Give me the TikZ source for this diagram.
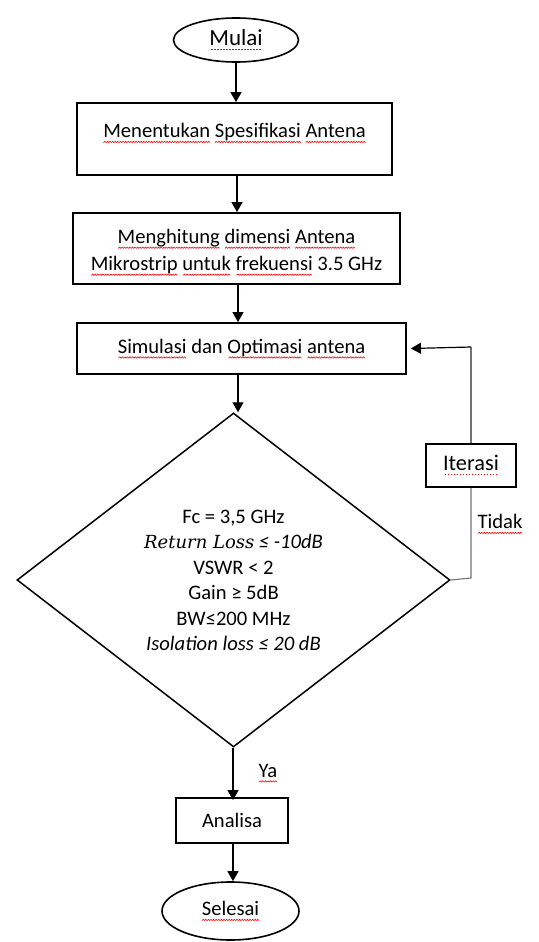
\documentclass[tikz,border=0pt]{standalone}
\usepackage{fontspec}
\setmainfont{Carlito}
\newfontfamily\cambit{DejaVu Serif Italic}
\usetikzlibrary{shapes.geometric,arrows.meta}
\newsavebox\wavebox
\newcommand\rw[1]{\setbox0\hbox{#1}\rlap{\raisebox{-5pt}{\hbox to \wd0{\cleaders\copy\wavebox\hfill}}}\box0\relax}
\newcommand\rd[1]{\setbox0\hbox{#1}\rlap{\raisebox{-4.5pt}{\hbox to \wd0{\cleaders\hbox{\kern0.7pt\textcolor{red}{\rule{1.6pt}{1.1pt}}\kern0.7pt}\hfill}}}\box0\relax}
\tikzset{
  base/.style={font=\fontsize{20.6}{27}\selectfont, align=center, inner sep=0pt},
  proc/.style={base, draw, line width=1.8pt, rectangle},
  term/.style={base, draw, line width=1.6pt, ellipse},
  arr/.style={line width=1.2pt, -{Triangle[length=10pt,width=11pt]}},
  lbl/.style={base},
}
\begin{document}
\sbox\wavebox{\begin{pgfpicture}%
  \pgfpathrectangle{\pgfpointorigin}{\pgfpoint{2.6pt}{1.4pt}}\pgfusepath{use as bounding box}%
  \pgfsetlinewidth{0.6pt}\pgfsetstrokecolor{red}\pgfsetroundjoin
  \pgfpathmoveto{\pgfpointorigin}\pgfpathlineto{\pgfpoint{1.3pt}{1.4pt}}\pgfpathlineto{\pgfpoint{2.6pt}{0pt}}\pgfusepath{stroke}%
\end{pgfpicture}}%
\begin{tikzpicture}[x=1pt,y=-1pt]
\useasboundingbox (0,0) rectangle (538,942);
\node[term, minimum width=125pt, minimum height=44pt, font=\fontsize{23}{27}\selectfont] (start) at (236,40) {\rd{Mulai}};
\node[proc, minimum width=315pt, minimum height=72pt] (b1) at (234.5,139)
  {\raisebox{6pt}[\height][\depth]{\rw{Menentukan} \rw{Spesifikasi} \rw{Antena}}};
\node[proc, minimum width=327pt, minimum height=71pt] (b2) at (236.5,248.5)
  {\raisebox{-3pt}[\height][\depth]{\begin{tabular}{@{}c@{}}\rw{Menghitung} \rw{dimensi} \rw{Antena}\\ \rw{Mikrostrip} \rw{untuk} \rw{frekuensi} 3.5 GHz\end{tabular}}};
\node[proc, minimum width=329pt, minimum height=51pt] (b3) at (241.5,348.5)
  {\rw{Simulasi} dan \rw{Optimasi} \rw{antena}};
\node[base, draw, line width=1.5pt, diamond, minimum width=433pt, minimum height=334pt, shape aspect=1.3, font=\fontsize{20.6}{25.4}\selectfont] (dia) at (233.5,580)
  {\raisebox{-2pt}[\height][\depth]{\begin{tabular}{@{}c@{}}Fc = 3,5 GHz\\
   {\cambit\fontsize{18}{25.4}\selectfont Return Loss}\ \textit{≤ -10dB}\\
   VSWR < 2\\
   Gain ≥ 5dB\\
   BW≤200 MHz\\
   \textit{Isolation loss ≤ 20 dB}\end{tabular}}};
\node[proc, minimum width=90pt, minimum height=43pt, font=\fontsize{22.3}{27}\selectfont] (it) at (471,465.5) {\rd{Iterasi}};
\node[proc, minimum width=112pt, minimum height=45pt] (an) at (232,820.5) {Analisa};
\node[term, minimum width=137pt, minimum height=58pt] (end) at (230.5,911) {\rw{Selesai}};
\node[lbl] (tidak) at (500,524) {\rw{Tidak}};
\node[lbl] (ya) at (268,773) {\rw{Ya}};
\coordinate (c1) at (471,578);
\coordinate (c2) at (471,347);
\draw[arr] (start.south) -- (start.south |- b1.north);
\draw[arr] (b1.south -| 237,0) -- (b2.north -| 237,0);
\draw[arr] (b2.south -| 238,0) -- (b3.north -| 238,0);
\draw[arr] (b3.south -| 238,0) -- (dia.north -| 238,0);
\draw[arr] (dia.south -| 233,0) -- ([yshift=-3pt]an.north -| 233,0);
\draw[arr] (an.south -| 233,0) -- (end.north -| 233,0);
\draw[line width=1.1pt, black!55] (dia.east) -- (c1) -- (it.south);
\draw[line width=1.1pt, black!55] (it.north) -- (c2);
\draw[arr] (c2) -- ([xshift=4pt]b3.east);
\end{tikzpicture}
\end{document}
